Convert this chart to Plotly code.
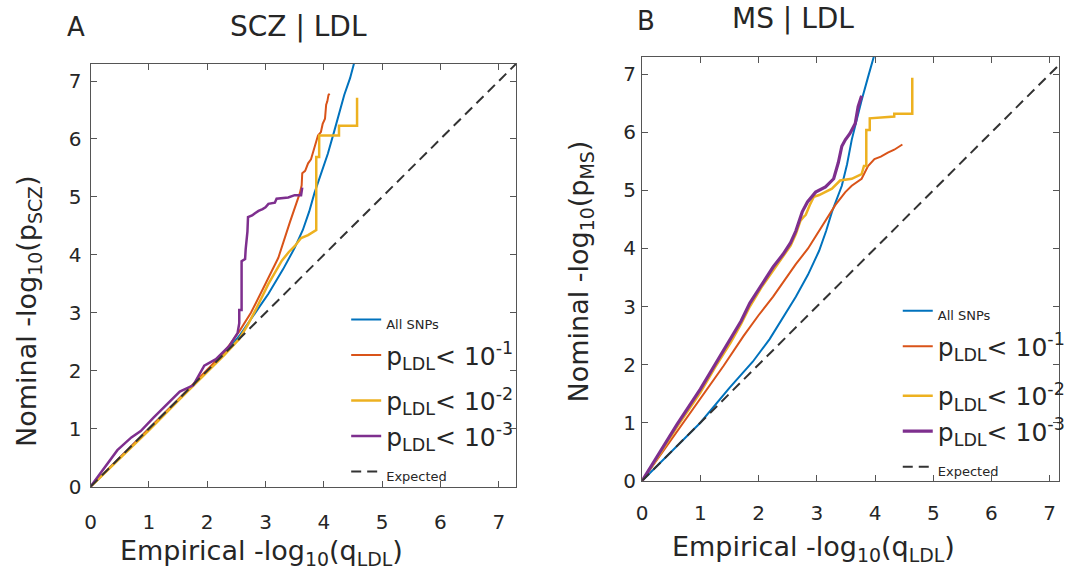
import plotly.graph_objects as go

# ---------------- Panel A : SCZ | LDL ----------------
a_all_x = [0, 0.5, 1, 1.5, 2, 2.3, 2.55, 2.83, 3.05, 3.3, 3.5, 3.64, 3.75, 3.84, 3.95, 4.07, 4.18, 4.27, 4.35, 4.45, 4.53]
a_all_y = [0, 0.5, 1, 1.5, 2, 2.3, 2.6, 3.0, 3.33, 3.75, 4.12, 4.43, 4.75, 5.07, 5.4, 5.75, 6.14, 6.45, 6.76, 7.05, 7.35]

a_p1_x = [0, 0.5, 1, 1.5, 2.0, 2.3, 2.55, 2.75, 2.94, 3.22, 3.42, 3.59, 3.62, 3.63, 3.68, 3.73, 3.78, 3.84, 3.90, 3.95, 3.98, 4.02, 4.04, 4.06, 4.08, 4.10]
a_p1_y = [0, 0.5, 1, 1.5, 2.02, 2.33, 2.68, 3.0, 3.38, 3.95, 4.57, 5.07, 5.2, 5.41, 5.45, 5.58, 5.65, 5.86, 6.06, 6.12, 6.26, 6.35, 6.59, 6.65, 6.76, 6.78]

a_p2_x = [0, 0.5, 1, 1.5, 2, 2.3, 2.55, 2.7, 2.83, 3.05, 3.28, 3.4, 3.5, 3.61, 3.73, 3.80, 3.87, 3.87, 3.92, 3.92, 4.26, 4.26, 4.57, 4.57]
a_p2_y = [0, 0.48, 0.97, 1.48, 1.98, 2.28, 2.55, 2.8, 3.05, 3.5, 3.9, 4.05, 4.15, 4.29, 4.34, 4.38, 4.43, 5.69, 5.69, 6.06, 6.06, 6.23, 6.23, 6.71]

a_p3_x = [0, 0.2, 0.46, 0.7, 0.86, 1.08, 1.28, 1.53, 1.76, 1.95, 2.15, 2.38, 2.52, 2.55, 2.55, 2.59, 2.59, 2.65, 2.66, 2.69, 2.70, 2.77, 2.82, 2.88, 2.95, 3.0, 3.05, 3.16, 3.19, 3.39, 3.5, 3.61, 3.63]
a_p3_y = [0, 0.27, 0.63, 0.85, 0.96, 1.19, 1.39, 1.64, 1.75, 2.09, 2.20, 2.43, 2.65, 2.82, 3.05, 3.05, 3.89, 3.93, 4.1, 4.4, 4.65, 4.68, 4.72, 4.76, 4.79, 4.82, 4.88, 4.90, 4.97, 4.99, 5.03, 5.03, 5.16]

# ---------------- Panel B : MS | LDL ----------------
b_all_x = [0, 0.5, 1, 1.5, 1.9, 2.19, 2.45, 2.64, 2.85, 3.04, 3.16, 3.26, 3.43, 3.52, 3.60, 3.68, 3.77, 3.88, 3.99]
b_all_y = [0, 0.5, 1.0, 1.6, 2.05, 2.44, 2.85, 3.17, 3.55, 3.96, 4.3, 4.63, 5.08, 5.45, 5.87, 6.2, 6.55, 6.95, 7.34]

b_p1_x = [0, 0.5, 1.0, 1.4, 1.74, 2.0, 2.25, 2.45, 2.64, 2.85, 3.04, 3.2, 3.32, 3.49, 3.60, 3.77, 3.88, 3.99, 4.1, 4.22, 4.33, 4.47]
b_p1_y = [0, 0.7, 1.4, 1.98, 2.49, 2.85, 3.17, 3.45, 3.73, 4.0, 4.30, 4.55, 4.75, 4.97, 5.08, 5.20, 5.42, 5.54, 5.58, 5.65, 5.70, 5.79]

b_p2_x = [0, 0.3, 0.6, 1.0, 1.25, 1.52, 1.7, 1.85, 2.05, 2.25, 2.42, 2.55, 2.64, 2.72, 2.78, 2.81, 2.88, 2.95, 3.04, 3.26, 3.40, 3.60, 3.77, 3.81, 3.85, 3.85, 3.91, 3.91, 4.33, 4.33, 4.64, 4.64]
b_p2_y = [0, 0.45, 0.93, 1.52, 1.95, 2.38, 2.7, 3.0, 3.33, 3.62, 3.86, 4.05, 4.25, 4.48, 4.55, 4.58, 4.75, 4.89, 4.92, 5.03, 5.17, 5.20, 5.28, 5.42, 5.42, 6.04, 6.04, 6.24, 6.27, 6.32, 6.32, 6.94]

b_p3_x = [0, 0.3, 0.6, 1.0, 1.25, 1.52, 1.7, 1.85, 2.05, 2.25, 2.42, 2.55, 2.64, 2.70, 2.75, 2.84, 2.98, 3.15, 3.29, 3.37, 3.43, 3.49, 3.57, 3.66, 3.71, 3.77]
b_p3_y = [0, 0.48, 0.97, 1.58, 2.0, 2.44, 2.75, 3.06, 3.38, 3.68, 3.90, 4.1, 4.30, 4.5, 4.63, 4.80, 4.97, 5.06, 5.20, 5.48, 5.76, 5.87, 5.98, 6.15, 6.44, 6.63]

expected = [0, 7.3]

tick_vals = [0, 1, 2, 3, 4, 5, 6, 7]
tick_text = ["0", "1", "2", "3", "4", "5", "6", "7"]

names = [
    "<span style='font-size:13px'>All SNPs</span>",
    "p<sub>LDL</sub>< 10<sup>-1</sup>",
    "p<sub>LDL</sub>< 10<sup>-2</sup>",
    "p<sub>LDL</sub>< 10<sup>-3</sup>",
    "<span style='font-size:13px'>Expected</span>",
]
groups = ["g1", "g1", "g2", "g2", "g2"]
colors = ["#0072BD", "#D95319", "#EDB120", "#7E2F8E"]

FONT = "DejaVu Sans"
TXT = "#262626"

fig = go.Figure()

panels = [
    ("x", "y", "legend", "A", [(a_all_x, a_all_y), (a_p1_x, a_p1_y), (a_p2_x, a_p2_y), (a_p3_x, a_p3_y)], [2, 2, 2.5, 2.5]),
    ("x2", "y2", "legend2", "B", [(b_all_x, b_all_y), (b_p1_x, b_p1_y), (b_p2_x, b_p2_y), (b_p3_x, b_p3_y)], [2, 2, 2.5, 3.2]),
]

for xa, ya, lg, tag, series, widths in panels:
    for i, (sx, sy) in enumerate(series):
        fig.add_trace(go.Scatter(x=sx, y=sy, mode="lines", name=names[i],
                                 line=dict(color=colors[i], width=widths[i]),
                                 legendgroup=tag + groups[i],
                                 xaxis=xa, yaxis=ya, legend=lg))
    fig.add_trace(go.Scatter(x=expected, y=expected, mode="lines", name=names[4],
                             line=dict(color="#333333", width=2, dash="10px,6px"),
                             legendgroup=tag + groups[4],
                             xaxis=xa, yaxis=ya, legend=lg))

W, H = 1071, 577

def px_x(p):
    return p / W

def px_y(p):
    return 1 - p / H

axis_common = dict(
    tickvals=tick_vals, ticktext=tick_text, ticks="inside", ticklen=6, tickwidth=1,
    tickcolor="#555555", showline=True, linecolor="#555555", linewidth=1.2,
    mirror="allticks", showgrid=False, zeroline=False,
    tickfont=dict(family=FONT, size=20, color=TXT),
)

fig.update_layout(
    width=W, height=H,
    margin=dict(l=0, r=0, t=0, b=0),
    paper_bgcolor="white", plot_bgcolor="white",
    xaxis=dict(domain=[px_x(86), px_x(519)], range=[0, 7.3], anchor="y", ticklabelstandoff=17, **axis_common),
    yaxis=dict(domain=[px_y(497), px_y(65)], range=[0, 7.3], anchor="x", ticklabelstandoff=4, **axis_common),
    xaxis2=dict(domain=[px_x(647), 1.0], range=[0, 7.16], anchor="y2", ticklabelstandoff=14, **axis_common),
    yaxis2=dict(domain=[px_y(491), px_y(58)], range=[0, 7.3], anchor="x2", ticklabelstandoff=1, **axis_common),
    legend=dict(x=px_x(346), y=px_y(303), xanchor="left", yanchor="top",
                font=dict(family=FONT, size=25, color=TXT), bgcolor="rgba(0,0,0,0)",
                itemwidth=30, tracegroupgap=10, groupclick="toggleitem"),
    legend2=dict(x=px_x(907), y=px_y(294), xanchor="left", yanchor="top",
                 font=dict(family=FONT, size=25, color=TXT), bgcolor="rgba(0,0,0,0)",
                 itemwidth=30, tracegroupgap=14, groupclick="toggleitem"),
    showlegend=True,
)

ann_font = dict(family=FONT, size=27, color=TXT)
annotations = [
    dict(text="A", x=px_x(71), y=px_y(28), font=dict(family=FONT, size=26, color=TXT)),
    dict(text="B", x=px_x(651), y=px_y(21), font=dict(family=FONT, size=26, color=TXT)),
    dict(text="SCZ | LDL", x=px_x(297), y=px_y(27), font=dict(family=FONT, size=28, color=TXT)),
    dict(text="MS | LDL", x=px_x(800), y=px_y(19), font=dict(family=FONT, size=28, color=TXT)),
    dict(text="Empirical -log<sub>10</sub>(q<sub>LDL</sub>)", x=px_x(260), y=px_y(564), font=ann_font),
    dict(text="Empirical -log<sub>10</sub>(q<sub>LDL</sub>)", x=px_x(821), y=px_y(560), font=ann_font),
    dict(text="Nominal -log<sub>10</sub>(p<sub>SCZ</sub>)", x=px_x(23), y=px_y(318), textangle=-90, font=ann_font),
    dict(text="Nominal -log<sub>10</sub>(p<sub>MS</sub>)", x=px_x(584), y=px_y(277), textangle=-90, font=ann_font),
]
for a in annotations:
    a.update(xref="paper", yref="paper", showarrow=False, xanchor="center", yanchor="middle")
fig.update_layout(annotations=annotations)

fig.write_html("out.html")
